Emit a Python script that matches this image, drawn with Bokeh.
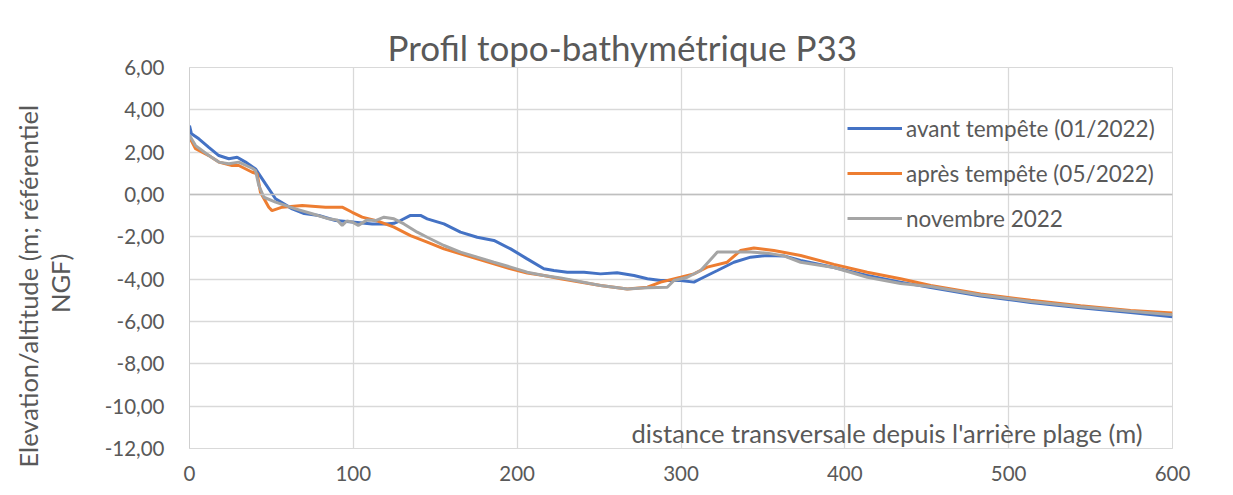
import math
from bokeh.plotting import figure
from bokeh.models import Range1d, FixedTicker, Label, Span, Legend, LegendItem, Title
from bokeh.embed import file_html
from bokeh.resources import INLINE

# ---- data ----
avant_x = [0, 1.2, 5.7, 11.8, 17.9, 24, 29.1, 34.2, 40.3, 46.4, 52.5, 62.7, 70, 78.9, 89.1, 99.3,
           111.5, 120, 124.8, 128.8, 134.9, 141, 145.1, 155.3, 165.4, 175.6, 185.8, 196, 206.1,
           216.3, 222.4, 230.6, 240.8, 250.9, 261, 271.3, 279.5, 287.6, 299.8, 307.9, 312, 322.2,
           332.3, 342.5, 352.7, 362.8, 373, 393.4, 413.7, 434, 452.4, 482.9, 513.4, 543.9, 574.4, 600]
avant_y = [3.25, 2.87, 2.63, 2.23, 1.84, 1.69, 1.76, 1.53, 1.21, 0.5, -0.2, -0.68, -0.9, -0.99,
           -1.23, -1.3, -1.39, -1.39, -1.36, -1.23, -0.99, -0.99, -1.15, -1.39, -1.78, -2.02, -2.17,
           -2.57, -3.04, -3.51, -3.59, -3.67, -3.67, -3.75, -3.7, -3.83, -3.98, -4.06, -4.06, -4.14,
           -3.98, -3.59, -3.2, -2.96, -2.88, -2.9, -3.12, -3.45, -3.83, -4.14, -4.4, -4.8, -5.1,
           -5.35, -5.58, -5.78]

apres_x = [0, 3.7, 11.8, 17.9, 26, 30.1, 38.3, 41.3, 43.3, 48.4, 50.4, 56.6, 68.8, 83, 93.2, 99.3,
           105.4, 114.6, 124.8, 134.9, 145.1, 155.3, 165.4, 175.6, 185.8, 196, 206.1, 216.3, 226.5,
           250.9, 267.2, 279.5, 287.6, 299.8, 307.9, 316, 328.2, 336.3, 344.5, 356.7, 373, 393.4,
           413.7, 434, 452.4, 482.9, 513.4, 543.9, 574.4, 600]
apres_y = [2.71, 2.16, 1.84, 1.53, 1.37, 1.37, 1.05, 0.98, 0.11, -0.6, -0.76, -0.6, -0.52, -0.6,
           -0.6, -0.84, -1.07, -1.25, -1.54, -1.94, -2.25, -2.57, -2.8, -3.04, -3.27, -3.51, -3.71,
           -3.83, -3.98, -4.3, -4.46, -4.38, -4.14, -3.91, -3.75, -3.43, -3.2, -2.65, -2.53, -2.65,
           -2.88, -3.3, -3.67, -3.98, -4.3, -4.7, -5.0, -5.25, -5.48, -5.6]

nov_x = [0, 3.7, 11.8, 17.9, 24, 30.1, 38.3, 40.3, 42.3, 45.4, 52.5, 64.7, 74.9, 85, 90, 93.2, 96,
         99.3, 103, 108.5, 113.6, 118.7, 124.8, 130.9, 139, 145.1, 155.3, 165.4, 175.6, 185.8, 196,
         206.1, 216.3, 226.5, 250.9, 267.2, 279.5, 291.6, 295.7, 303.9, 312, 322.2, 332.3, 342.5,
         352.7, 362.8, 373, 393.4, 413.7, 434, 452.4, 482.9, 513.4, 543.9, 574.4, 600]
nov_y = [2.79, 2.31, 1.84, 1.53, 1.45, 1.53, 1.24, 1.13, 0.43, -0.13, -0.36, -0.68, -0.91, -1.15,
         -1.2, -1.46, -1.25, -1.3, -1.46, -1.2, -1.23, -1.07, -1.15, -1.39, -1.78, -2.02, -2.41,
         -2.72, -2.96, -3.2, -3.43, -3.67, -3.83, -3.94, -4.3, -4.46, -4.4, -4.38, -4.06, -3.91,
         -3.59, -2.72, -2.72, -2.72, -2.77, -2.9, -3.2, -3.45, -3.91, -4.2, -4.35, -4.75, -5.05,
         -5.3, -5.52, -5.68]

series_names = ["avant tempête (01/2022)", "après tempête (05/2022)", "novembre 2022"]
y_ticks = [6, 4, 2, 0, -2, -4, -6, -8, -10, -12]
y_tick_labels = ["6,00", "4,00", "2,00", "0,00", "-2,00", "-4,00", "-6,00", "-8,00", "-10,00", "-12,00"]
x_ticks = [0, 100, 200, 300, 400, 500, 600]

title_text = "Profil topo-bathymétrique P33"
y_title_line1 = "Elevation/altitude (m; référentiel"
y_title_line2 = "NGF)"
x_title = "distance transversale depuis l'arrière plage (m)"

FONT = "Lato"
TXT = "#595959"
GRID = "#d9d9d9"

W, H = 1233, 495
FL, FR, FT, FB = 189, 61, 67, 47  # frame borders
p = figure(width=W, height=H, output_backend="svg", toolbar_location=None,
           x_range=Range1d(0, 600), y_range=Range1d(-12, 6),
           min_border_left=FL, min_border_right=FR, min_border_top=FT, min_border_bottom=FB)
p.background_fill_color = "white"
p.border_fill_color = "white"
p.outline_line_color = GRID

p.title.text = title_text
p.title.align = "left"
p.title.offset = 198
p.title.standoff = 0
p.title.text_font = FONT
p.title.text_font_size = "35px"
p.title.text_font_style = "normal"
p.title.text_color = TXT

p.xaxis.ticker = FixedTicker(ticks=x_ticks)
p.yaxis.ticker = FixedTicker(ticks=y_ticks)
p.yaxis.major_label_overrides = {t: l for t, l in zip(y_ticks, y_tick_labels)}
for ax in (p.xaxis, p.yaxis):
    ax.major_tick_line_color = None
    ax.minor_tick_line_color = None
    ax.major_label_text_font = FONT
    ax.major_label_text_font_size = "20.5px"
    ax.major_label_text_color = TXT
p.yaxis.axis_line_color = "#cfcfcf"
p.xaxis.axis_line_color = GRID
p.yaxis.major_label_standoff = 19
p.xaxis.major_label_standoff = 11
# spacer so the two title lines sit where they do in the reference
p.yaxis.axis_label = " "
p.yaxis.axis_label_text_font_size = "1px"
p.yaxis.axis_label_standoff = 23
p.xgrid.grid_line_color = GRID
p.ygrid.grid_line_color = GRID
p.xgrid.grid_line_width = 1.3
p.ygrid.grid_line_width = 1.3

p.add_layout(Span(location=0, dimension="width", line_color="#bfbfbf", line_width=1.5))

r1 = p.line(avant_x, avant_y, line_color="#4472C4", line_width=3)
r2 = p.line(apres_x, apres_y, line_color="#ED7D31", line_width=3)
r3 = p.line(nov_x, nov_y, line_color="#A5A5A5", line_width=3)

legend = Legend(items=[LegendItem(label=series_names[0], renderers=[r1]),
                       LegendItem(label=series_names[1], renderers=[r2]),
                       LegendItem(label=series_names[2], renderers=[r3])],
                location=(658, 216), background_fill_alpha=0, border_line_color=None,
                glyph_width=55, glyph_height=28, label_height=28, spacing=17,
                label_standoff=4, padding=0, margin=0,
                label_text_font=FONT, label_text_font_size="22.5px", label_text_color=TXT)
p.add_layout(legend)

# y-axis title: two lines, the second centred under the first
p.add_layout(Title(text=y_title_line2, align="left", offset=135.5, standoff=0,
                   text_font=FONT, text_font_size="25.5px", text_font_style="normal",
                   text_color=TXT), "left")
p.add_layout(Title(text=y_title_line1, align="left", offset=-19, standoff=0,
                   text_font=FONT, text_font_size="25.5px", text_font_style="normal",
                   text_color=TXT), "left")
p.add_layout(Label(x=581.7, y=-11.29, text=x_title, text_font=FONT, text_font_size="25.5px",
                   text_color=TXT, text_align="right", text_baseline="middle"))

open("out.html", "w").write(file_html(p, INLINE))
